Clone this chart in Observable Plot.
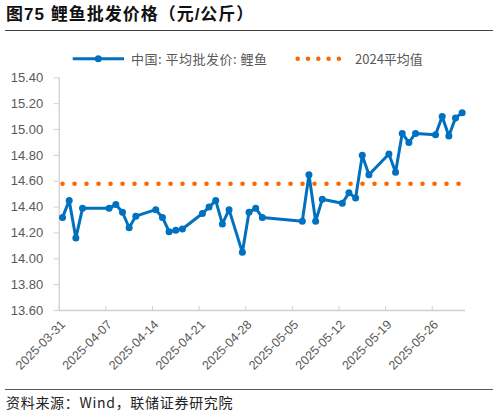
<!DOCTYPE html>
<html>
<head>
<meta charset="utf-8">
<script src="https://cdn.jsdelivr.net/npm/d3@7"></script>
<script src="https://cdn.jsdelivr.net/npm/@observablehq/plot@0.6"></script>
<style>
  body { margin: 0; background: #fff; }
  #page { position: relative; width: 499px; height: 414px; overflow: hidden; font-family: "Liberation Sans", Arial, "Noto Sans CJK SC", sans-serif; }
  #title { position: absolute; left: 6px; top: 5px; font: bold 17px/20px "Liberation Sans", "Noto Sans CJK SC", sans-serif; letter-spacing: 1px; color: #111; white-space: nowrap; }
  .rule { position: absolute; left: 5px; width: 488px; height: 0; }
  #legend { position: absolute; left: 0; top: 50px; width: 499px; height: 18px; font: 13px/18px "Noto Sans CJK SC", sans-serif; color: #595959; }
  #legend span { position: absolute; top: 0; white-space: nowrap; }
  #legend svg { position: absolute; top: 0; }
  #chart { position: absolute; left: 0; top: 64px; }
  #source { position: absolute; left: 6px; top: 394px; font: 14px/16px "Noto Sans CJK SC", sans-serif; letter-spacing: 0.7px; color: #222; white-space: nowrap; }
</style>
</head>
<body>
<div id="page">
  <div id="title">图75 鲤鱼批发价格（元/公斤）</div>
  <div class="rule" style="top:30px;border-top:1.4px solid #404040"></div>
  <div id="legend">
    <svg width="60" height="18" style="left:70px">
      <line x1="2.7" x2="54" y1="8.7" y2="8.7" stroke="#0070C0" stroke-width="3"/>
      <circle cx="28.3" cy="8.7" r="3.5" fill="#0070C0"/>
    </svg>
    <span style="left:131px;letter-spacing:0.5px">中国: 平均批发价: 鲤鱼</span>
    <svg width="60" height="18" style="left:295px">
      <line x1="2.7" x2="54" y1="8.7" y2="8.7" stroke="#FF6600" stroke-width="4.6" stroke-linecap="round" stroke-dasharray="0 10.3"/>
    </svg>
    <span style="left:355px">2024平均值</span>
  </div>
  <div id="chart"></div>
  <div class="rule" style="top:388.5px;border-top:1.4px solid #595959"></div>
  <div id="source">资料来源：Wind，联储证券研究院</div>
</div>
<script>
// 中国:平均批发价:鲤鱼 (元/公斤)
const dates = [
  '2025-03-31','2025-04-01','2025-04-02','2025-04-03',
  '2025-04-07','2025-04-08','2025-04-09','2025-04-10','2025-04-11',
  '2025-04-14','2025-04-15','2025-04-16','2025-04-17','2025-04-18',
  '2025-04-21','2025-04-22','2025-04-23','2025-04-24','2025-04-25',
  '2025-04-27','2025-04-28','2025-04-29','2025-04-30',
  '2025-05-06','2025-05-07','2025-05-08','2025-05-09',
  '2025-05-12','2025-05-13','2025-05-14','2025-05-15','2025-05-16',
  '2025-05-19','2025-05-20','2025-05-21','2025-05-22','2025-05-23',
  '2025-05-26','2025-05-27','2025-05-28','2025-05-29','2025-05-30'
]
const prices = [
  14.32, 14.45, 14.16, 14.39,
  14.39, 14.42, 14.36, 14.24, 14.33,
  14.38, 14.32, 14.21, 14.22, 14.23,
  14.35, 14.40, 14.45, 14.27, 14.38,
  14.05, 14.36, 14.39, 14.32,
  14.29, 14.65, 14.29, 14.46,
  14.43, 14.51, 14.47, 14.80, 14.65,
  14.81, 14.67, 14.97, 14.90, 14.97,
  14.96, 15.10, 14.95, 15.09, 15.13
]
const avg2024 = 14.58

const xTickLabels = ['2025-03-31','2025-04-07','2025-04-14','2025-04-21','2025-04-28','2025-05-05','2025-05-12','2025-05-19','2025-05-26']
const yTicks = [13.6, 13.8, 14.0, 14.2, 14.4, 14.6, 14.8, 15.0, 15.2, 15.4]
const xDomain = ['2025-03-31', '2025-05-31']

const day = s => new Date(s + 'T00:00:00Z')
// Excel date axis: points sit in the middle of each day slot
const rows = dates.map((d, i) => ({date: new Date(day(d).getTime() + 12 * 3600e3), price: prices[i], avg: avg2024}))

const fmt = d3.utcFormat('%Y-%m-%d')
const axisColor = '#d0d0d0'
const xTicks = xTickLabels.map(day)

let chart = Plot.plot({
  width: 499,
  height: 316,
  marginLeft: 58.7,
  marginRight: 34,
  marginTop: 13.3,
  marginBottom: 70,
  style: {fontFamily: '"Liberation Sans", Arial, sans-serif', background: 'transparent', overflow: 'visible'},
  x: {type: 'utc', domain: xDomain.map(day)},
  y: {domain: [yTicks[0], yTicks[yTicks.length - 1]]},
  marks: [
    Plot.axisY({ticks: yTicks, tickFormat: d => d.toFixed(2), tickSize: 5, tickPadding: 11,
      stroke: axisColor, fill: '#595959', fontSize: 13, label: null}),
    // tick marks point up into the plot, labels rotated below
    Plot.axisX({ticks: xTicks, tickSize: -4, text: null, stroke: axisColor, label: null}),
    Plot.axisX({ticks: xTicks, tickFormat: fmt, tickRotate: -45, tickSize: 0, tickPadding: 12, dx: 4,
      fill: '#595959', fontSize: 12.5, label: null}),
    Plot.ruleX([day(xDomain[0])], {stroke: axisColor, strokeWidth: 1.3}),
    Plot.ruleY([yTicks[0]], {stroke: axisColor, strokeWidth: 1.6}),
    // 2024 平均值
    Plot.line(rows, {x: 'date', y: 'avg', stroke: '#FF6600', strokeWidth: 4.6,
      strokeLinecap: 'round', strokeDasharray: '0 12'}),
    Plot.line(rows, {x: 'date', y: 'price', stroke: '#0070C0', strokeWidth: 3, strokeLinejoin: 'round'}),
    Plot.dot(rows, {x: 'date', y: 'price', r: 3.5, fill: '#0070C0'})
  ]
})

d3.select('#chart').append(() => chart)
</script>
</body>
</html>
